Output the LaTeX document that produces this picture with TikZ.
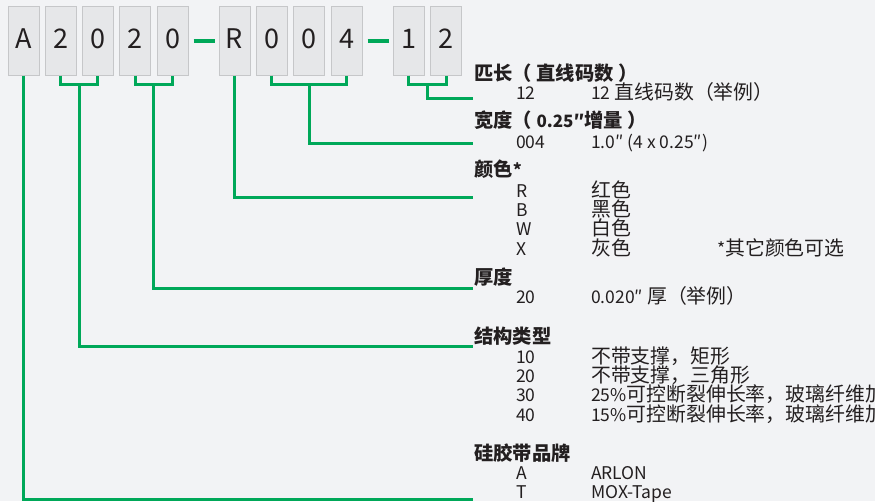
\documentclass[tikz,border=0pt]{standalone}
\usepackage{fontspec}
\setmainfont{Noto Sans CJK SC}
\newfontfamily\cj{Noto Sans CJK SC}[Scale=1.135]
\usetikzlibrary{calc}
\definecolor{bg}{HTML}{F2F3F5}
\definecolor{boxfill}{HTML}{E6E7E9}
\definecolor{boxline}{HTML}{C6C7C9}
\definecolor{grn}{HTML}{00A859}
\definecolor{ink}{HTML}{231F20}
\begin{document}
\begin{tikzpicture}[x=1pt,y=-1pt,
  bx/.style={draw=boxline,fill=boxfill,line width=1pt,minimum width=31pt,minimum height=69pt,inner sep=0pt,
    text height=20pt,text depth=4pt,text=ink,font=\fontsize{27}{30}\selectfont},
  gl/.style={draw=grn,line width=3pt},
  dl/.style={draw=grn,line width=4pt},
  hd/.style={anchor=base west,inner sep=0pt,text=ink,font=\fontsize{17}{20}\selectfont\bfseries},
  tx/.style={anchor=base west,inner sep=0pt,text=ink,font=\fontsize{17.5}{20}\selectfont}]
\fill[bg] (0,0) rectangle (875,501);
\useasboundingbox (0,0) rectangle (875,501);
\clip (0,0) rectangle (875,501);
% boxes
\node[bx] (b1) at (23.5,40.5) {A};
\node[bx] (b2) at (60.5,40.5) {2};
\node[bx] (b3) at (97.5,40.5) {0};
\node[bx] (b4) at (135,40.5) {2};
\node[bx] (b5) at (172.5,40.5) {0};
\node[bx] (b6) at (234.5,40.5) {R};
\node[bx] (b7) at (271.5,40.5) {0};
\node[bx] (b8) at (309,40.5) {0};
\node[bx] (b9) at (346.5,40.5) {4};
\node[bx] (b10) at (408.5,40.5) {1};
\node[bx] (b11) at (446,40.5) {2};
% dashes
\draw[dl] ($(b5.east)+(5,0)$) -- ($(b6.west)+(-4,0)$);
\draw[dl] ($(b9.east)+(5,0)$) -- ($(b10.west)+(-4,0)$);
% end coordinates
\coordinate (e1) at (473,98);
\coordinate (e2) at (473,143);
\coordinate (e3) at (473,197);
\coordinate (e4) at (473,288);
\coordinate (e5) at (473,346);
\coordinate (e6) at (473,499);
% connectors
\draw[gl] (b10.south) -- ++(0,9) -| (b11.south);
\coordinate (m1) at ($(b10.south)!0.5!(b11.south)+(0,9)$);
\draw[gl] (m1) |- (e1);
\draw[gl] (b7.south) -- ++(0,9) -| (b9.south);
\coordinate (m2) at ($(b8.south)+(0,9)$);
\draw[gl] (m2) |- (e2);
\draw[gl] (b6.south) |- (e3);
\draw[gl] (b4.south) -- ++(0,9) -| (b5.south);
\coordinate (m4) at ($(b4.south)!0.5!(b5.south)+(0,9)$);
\draw[gl] (m4) |- (e4);
\draw[gl] (b2.south) -- ++(0,9) -| (b3.south);
\coordinate (m5) at ($(b2.south)!0.5!(b3.south)+(0,9)$);
\draw[gl] (m5) |- (e5);
\draw[gl] (b1.south) |- (e6);
% texts
\node[hd] (h1) at (474,80.5) {{\cj 匹长（ 直线码数 ）}};
\node[tx] (c1a) at (516,99) {12};
\node[tx] (d1a) at (591,99) {12 {\cj 直线码数（举例）}};
\node[hd] (h2) at (474,127) {{\cj 宽度（ }0.25″{\cj 增量 ）}};
\node[tx] (c2a) at (516,148) {004};
\node[tx] (d2a) at (591,148) {1.0″ (4 x 0.25″)};
\node[hd] (h3) at (474,176) {{\cj 颜色}*};
\node[tx] (c3a) at (516,197) {R};
\node[tx] (d3a) at (591,197) {{\cj 红色}};
\node[tx] (c3b) at (516,216.3) {B};
\node[tx] (d3b) at (591,216.3) {{\cj 黑色}};
\node[tx] (c3c) at (516,235.6) {W};
\node[tx] (d3c) at (591,235.6) {{\cj 白色}};
\node[tx] (c3d) at (516,255) {X};
\node[tx] (d3d) at (591,255) {{\cj 灰色}};
\node[tx] (n3) at (717,255) {*{\cj 其它颜色可选}};
\node[hd] (h4) at (474,284) {{\cj 厚度}};
\node[tx] (c4a) at (516,303) {20};
\node[tx] (d4a) at (591,303) {0.020″ {\cj 厚（举例）}};
\node[hd] (h5) at (474,343) {{\cj 结构类型}};
\node[tx] (c5a) at (516,363) {10};
\node[tx] (d5a) at (591,363) {{\cj 不带支撑，矩形}};
\node[tx] (c5b) at (516,382.3) {20};
\node[tx] (d5b) at (591,382.3) {{\cj 不带支撑，三角形}};
\node[tx] (c5c) at (516,401.6) {30};
\node[tx] (d5c) at (591,401.6) {25\%{\cj 可控断裂伸长率，玻璃纤维加}};
\node[tx] (c5d) at (516,421) {40};
\node[tx] (d5d) at (591,421) {15\%{\cj 可控断裂伸长率，玻璃纤维加}};
\node[hd] (h6) at (474,460.5) {{\cj 硅胶带品牌}};
\node[tx] (c6a) at (516,479) {A};
\node[tx] (d6a) at (591,479) {ARLON};
\node[tx] (c6b) at (516,498.5) {T};
\node[tx] (d6b) at (591,498.5) {MOX-Tape};
\end{tikzpicture}
\end{document}
